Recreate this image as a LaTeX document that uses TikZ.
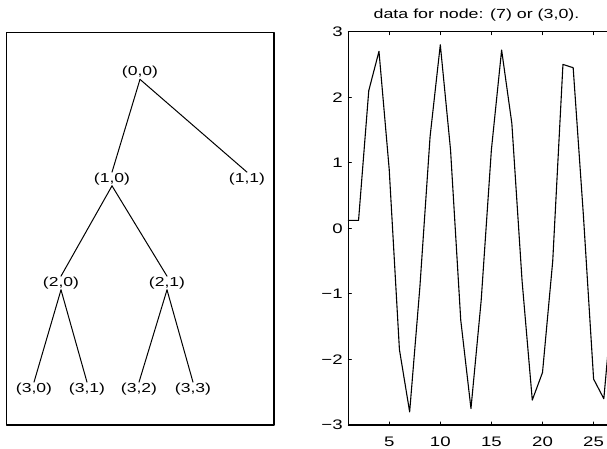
\documentclass[tikz,border=0pt]{standalone}
\usepackage{fontspec}
\newfontfamily\plotfont{Liberation Sans}[FakeStretch=1.35]

\begin{document}
\begin{tikzpicture}[x=1pt,y=-1pt,line cap=round,line join=round,
  treetext/.style={font=\plotfont\fontsize{13}{14}\selectfont,inner sep=.6pt},
  ticktext/.style={font=\plotfont\fontsize{13.8}{15}\selectfont,inner sep=0pt},
  branch/.style={line width=1pt},
  frame/.style={line width=1.2pt},
  axistick/.style={line width=.9pt},
  signal/.style={line width=1.1pt}]
  \useasboundingbox (0,0) rectangle (607,449);
  % tree panel
  \draw[frame] (6.7,32.3) rectangle (274,425);
  \foreach \depth/\pos/\x/\y in {0/0/140/72.5,1/0/112/179,1/1/247/179,
    2/0/61/283,2/1/167/283,3/0/34/389,3/1/87/389,3/2/139/389,3/3/193/389}
    \node[treetext] (n\depth\pos) at (\x,\y) {(\depth,\pos)};
  \foreach \parent/\child in {00/10,00/11,10/20,10/21,20/30,20/31,21/32,21/33}
    \draw[branch] (n\parent.south) -- (n\child.north);
  % data panel
  \node[ticktext,font=\plotfont\fontsize{13.2}{15}\selectfont] (title) at (476.5,15.5) {data for node: (7) or (3,0).};
  \begin{scope}[shift={(338.1pt,-228.3pt)},x=10.22pt,y=65.55pt]
    \draw[frame] (1,-3) rectangle (27,3);
    \foreach \t in {5,10,...,25} {
      \draw[axistick] (\t,-3) -- ++(0,3pt);
      \draw[axistick] (\t,3) -- ++(0,-3pt);
      \node[ticktext] (xt\t) at ([yshift=-16.7pt]\t,-3) {\t};
    }
    \foreach \t/\lab in {-3/\char"2212 3,-2/\char"2212 2,-1/\char"2212 1,0/0,1/1,2/2,3/3} {
      \draw[axistick] (1,\t) -- ++(3pt,0);
      \draw[axistick] (27,\t) -- ++(-3pt,0);
      \node[ticktext,anchor=east] (yt\t) at ([xshift=-5.5pt]1,\t) {\lab};
    }
    \draw[signal] plot coordinates {(1,0.12) (2,0.12) (3,2.1) (4,2.7) (5,0.9)
      (6,-1.85) (7,-2.8) (8,-0.9) (9,1.4) (10,2.8) (11,1.2) (12,-1.4)
      (13,-2.75) (14,-1.1) (15,1.2) (16,2.72) (17,1.6) (18,-0.8) (19,-2.62)
      (20,-2.2) (21,-0.5) (22,2.5) (23,2.45) (24,0.2) (25,-2.3) (26,-2.6)
      (27,-0.85)};
  \end{scope}
\end{tikzpicture}
\end{document}
